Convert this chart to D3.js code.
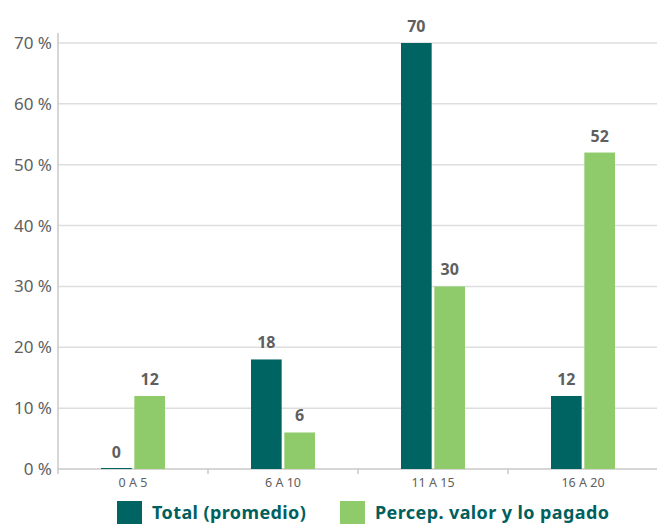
<!DOCTYPE html>
<html lang="es">
<head>
<meta charset="UTF-8"/>
<title>Bar chart</title>
<script src="https://d3js.org/d3.v7.min.js"></script>
<style>
  body { margin: 0; background: #fff; }
  text { font-family: "Noto Sans", sans-serif; }
</style>
</head>
<body>
<script>
var categories = ["0 A 5", "6 A 10", "11 A 15", "16 A 20"];
var totalPromedio = [0, 18, 70, 12];
var percepValor = [12, 6, 30, 52];
var seriesNames = ["Total (promedio)", "Percep. valor y lo pagado"];
var yTicks = [0, 10, 20, 30, 40, 50, 60, 70];

var w = 657, h = 524;
var plotLeft = 58, plotRight = 658, plotTop = 43, plotBottom = 469;
var colors = ["#006462", "#8fcb6b"];

var svg = d3.select("body").append("svg")
  .attr("width", w).attr("height", h);

var x = d3.scaleBand().domain(categories).range([plotLeft, plotRight]);
var xs = d3.scaleBand().domain([0, 1]).range([0, 64]).paddingInner(0.08);
var y = d3.scaleLinear().domain([0, 70]).range([plotBottom, plotTop]);

// gridlines
svg.append("g").selectAll("line").data(yTicks).enter().append("line")
  .attr("x1", plotLeft).attr("x2", w)
  .attr("y1", function(d) { return y(d); })
  .attr("y2", function(d) { return y(d); })
  .attr("stroke", function(d) { return d === 0 ? "#c8c8c8" : "#dedede"; })
  .attr("stroke-width", 1.5);

// y axis line
svg.append("line")
  .attr("x1", plotLeft).attr("x2", plotLeft)
  .attr("y1", 33).attr("y2", plotBottom + 5)
  .attr("stroke", "#c8c8c8").attr("stroke-width", 1.5);

// y tick labels
svg.append("g").selectAll("text").data(yTicks).enter().append("text")
  .attr("x", plotLeft - 6)
  .attr("y", function(d) { return y(d) + 6; })
  .attr("text-anchor", "end")
  .attr("font-size", 17)
  .attr("fill", "#606060")
  .text(function(d) { return d + " %"; });

// category ticks
svg.append("g").selectAll("line").data(categories.slice(1)).enter().append("line")
  .attr("x1", function(d) { return x(d); })
  .attr("x2", function(d) { return x(d); })
  .attr("y1", plotBottom).attr("y2", plotBottom + 5)
  .attr("stroke", "#c8c8c8").attr("stroke-width", 1.5);

svg.append("g").selectAll("text").data(categories).enter().append("text")
  .attr("x", function(d) { return x(d) + x.bandwidth() / 2; })
  .attr("y", plotBottom + 18)
  .attr("text-anchor", "middle")
  .attr("font-size", 12.5)
  .attr("fill", "#606060")
  .text(function(d) { return d; });

var series = [totalPromedio, percepValor];
series.forEach(function(vals, s) {
  var g = svg.append("g");
  var ox = function(i) { return x(categories[i]) + x.bandwidth() / 2 - 32 + xs(s); };
  g.selectAll("rect").data(vals).enter().append("rect")
    .attr("x", function(d, i) { return ox(i); })
    .attr("y", function(d) { return d === 0 ? y(0) - 1 : y(d); })
    .attr("width", xs.bandwidth())
    .attr("height", function(d) { return d === 0 ? 1 : y(0) - y(d); })
    .attr("fill", colors[s]);
  g.selectAll("text").data(vals).enter().append("text")
    .attr("x", function(d, i) { return ox(i) + xs.bandwidth() / 2; })
    .attr("y", function(d) { return y(d) - 11; })
    .attr("text-anchor", "middle")
    .attr("font-size", 16)
    .attr("font-weight", "bold")
    .attr("fill", "#5f5f5f")
    .text(function(d) { return d; });
});

// legend
var legX = [117, 340];
seriesNames.forEach(function(name, i) {
  svg.append("rect")
    .attr("x", legX[i]).attr("y", 501)
    .attr("width", 25).attr("height", 24)
    .attr("fill", colors[i]);
  svg.append("text")
    .attr("x", legX[i] + 35).attr("y", 519)
    .attr("font-size", 18)
    .attr("font-weight", "bold")
    .attr("letter-spacing", 0.4)
    .attr("fill", "#00605d")
    .text(name);
});
</script>
</body>
</html>
